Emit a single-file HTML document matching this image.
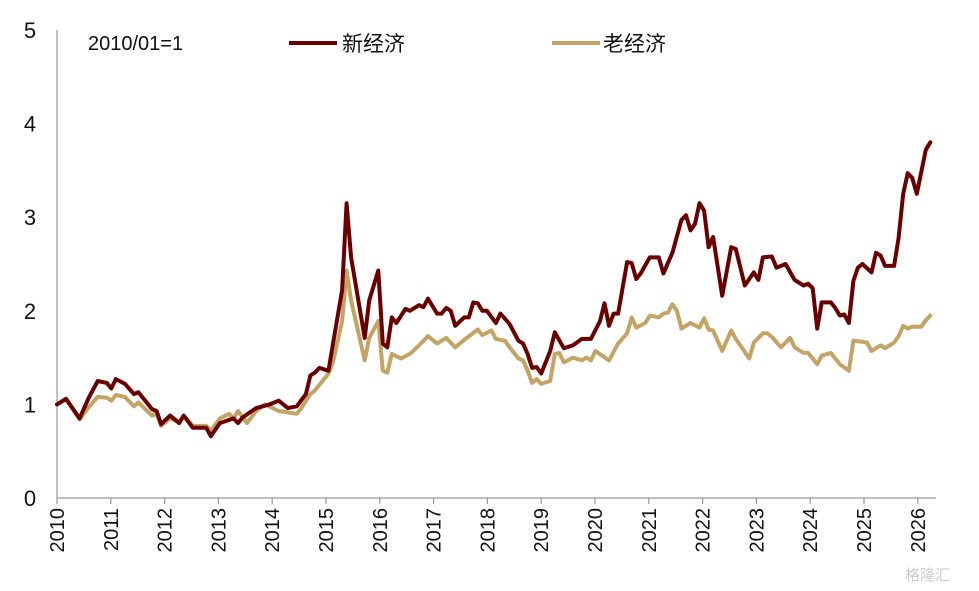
<!DOCTYPE html>
<html><head><meta charset="utf-8">
<style>
body{margin:0;background:#fff;}
svg{display:block;font-family:"Liberation Sans","Noto Sans CJK SC",sans-serif;}
</style></head>
<body>
<svg id="chart" width="979" height="591" viewBox="0 0 979 591" xmlns="http://www.w3.org/2000/svg">
  <g id="axes"></g>
  <g id="series"></g>
  <g>
    <text x="88" y="50" font-size="20" fill="#111">2010/01=1</text>
    <line x1="289" y1="43" x2="337" y2="43" stroke="#6b0000" stroke-width="4"/>
    <text x="342" y="51" font-size="21" fill="#111">新经济</text>
    <line x1="552" y1="43" x2="600" y2="43" stroke="#c4a464" stroke-width="4"/>
    <text x="603" y="51" font-size="21" fill="#111">老经济</text>
  </g>
  <text x="905" y="580" font-size="15" fill="#ccc">格隆汇</text>
</svg>
<script>
const yTicks = [0,1,2,3,4,5];
const xYears = [2010,2011,2012,2013,2014,2015,2016,2017,2018,2019,2020,2021,2022,2023,2024,2025,2026];
const newMonths = [0,2,5,7,9,11,12,13,15,17,18,21,22,23,25,27,28,30,33,34,36,39,40,41,44,47,49,51,53,55,56,57,58,60,61,63,64,65,68,69,71,72,73,74,75,77,78,80,81,82,84,85,86,87,88,90,91,92,93,94,95,97,98,100,102,103,104,105,106,107,109,110,112,114,116,118,120,121,122,123,124,126,127,128,129,131,133,134,136,138,139,140,141,142,143,144,145,147,149,150,152,154,155,156,158,159,161,163,165,166,167,168,169,171,172,173,174,175,176,177,178,180,181,182,183,185,186,187,188,189,190,192,193];
const newValues = [1.0,1.06,0.85,1.07,1.25,1.23,1.17,1.27,1.22,1.11,1.13,0.95,0.93,0.79,0.88,0.80,0.88,0.75,0.75,0.66,0.80,0.85,0.80,0.86,0.96,1.0,1.04,0.96,0.98,1.11,1.31,1.34,1.39,1.36,1.65,2.22,3.15,2.57,1.71,2.11,2.43,1.65,1.61,1.93,1.87,2.02,2.0,2.06,2.04,2.13,1.97,1.97,2.03,2.0,1.84,1.93,1.93,2.09,2.08,2.0,2.0,1.87,1.97,1.86,1.68,1.65,1.54,1.39,1.40,1.33,1.57,1.77,1.6,1.63,1.70,1.70,1.89,2.08,1.84,1.97,1.97,2.52,2.51,2.34,2.40,2.57,2.57,2.4,2.62,2.97,3.02,2.86,2.93,3.15,3.07,2.68,2.79,2.16,2.68,2.66,2.27,2.41,2.33,2.57,2.58,2.46,2.5,2.33,2.27,2.29,2.24,1.81,2.09,2.09,2.03,1.95,1.96,1.87,2.32,2.46,2.5,2.41,2.62,2.59,2.48,2.48,2.78,3.25,3.47,3.42,3.25,3.72,3.8];
const oldMonths = [0,2,5,7,9,11,12,13,15,17,18,21,22,23,25,27,28,30,33,34,36,38,39,40,42,44,46,49,53,54,56,57,60,61,63,64,65,68,69,71,72,73,74,76,78,80,82,84,86,88,90,93,94,96,97,99,100,102,103,104,105,106,107,109,110,111,112,114,116,117,118,119,122,124,126,127,128,130,131,133,134,135,136,137,138,140,142,143,144,145,147,149,150,153,154,156,157,158,160,162,163,165,166,168,169,171,173,175,176,178,179,180,182,183,185,186,187,188,189,191,192,193];
const oldValues = [1.0,1.06,0.84,0.97,1.08,1.07,1.04,1.1,1.08,0.98,1.02,0.88,0.9,0.77,0.85,0.81,0.88,0.77,0.77,0.72,0.85,0.9,0.85,0.93,0.8,0.93,1.0,0.93,0.9,0.96,1.11,1.15,1.33,1.45,1.89,2.43,2.11,1.47,1.71,1.89,1.36,1.34,1.54,1.49,1.54,1.63,1.73,1.65,1.71,1.61,1.69,1.80,1.74,1.79,1.70,1.68,1.61,1.49,1.47,1.36,1.23,1.27,1.22,1.25,1.54,1.55,1.45,1.5,1.47,1.50,1.47,1.57,1.47,1.65,1.76,1.93,1.82,1.87,1.95,1.93,1.97,1.98,2.07,2.0,1.81,1.87,1.82,1.92,1.80,1.79,1.57,1.79,1.70,1.49,1.66,1.76,1.76,1.72,1.61,1.71,1.61,1.55,1.55,1.43,1.52,1.55,1.43,1.36,1.68,1.67,1.66,1.57,1.63,1.6,1.66,1.73,1.84,1.81,1.83,1.83,1.9,1.95];

const NS='http://www.w3.org/2000/svg';
const X0=57, PX_PER_YEAR=54.3, Y0=498, PX_PER_UNIT=93.6;
function xMonth(m){return X0 + m*PX_PER_YEAR/12;}
function xYear(y){return X0 + (y-2010)*53.8;}
function yVal(v){return Y0 - v*PX_PER_UNIT;}
function mk(tag,attrs,parent){const e=document.createElementNS(NS,tag);for(const k in attrs)e.setAttribute(k,attrs[k]);parent.appendChild(e);return e;}

const axes=document.getElementById('axes');
let yl=mk('line',{x1:X0,y1:yVal(5),x2:X0,y2:Y0,stroke:'#999','stroke-width':1.2},axes);


let xl=mk('line',{x1:X0,y1:Y0,x2:936,y2:Y0,stroke:'#999','stroke-width':1.2},axes);


yTicks.forEach(v=>{
  const t=mk('text',{x:30,y:yVal(v)+8,'font-size':22,'text-anchor':'middle',fill:'#111'},axes);
  t.textContent=v;
  
  
});
xYears.forEach(yr=>{
  const x=xYear(yr);
  const tk=mk('line',{x1:x,y1:Y0,x2:x,y2:Y0+6,stroke:'#999','stroke-width':1.2},axes);
  
  
  const t=mk('text',{x:0,y:0,'font-size':20,'text-anchor':'end',fill:'#111',transform:`translate(${x+7},${Y0+10}) rotate(-90)`},axes);
  t.textContent=yr;
  
  
});

const series=document.getElementById('series');
function line(months,vals,color,name){
  const d=months.map((m,i)=>(i?'L':'M')+xMonth(m).toFixed(1)+','+yVal(vals[i]).toFixed(1)).join(' ');
  const p=mk('path',{d:d,fill:'none',stroke:color,'stroke-width':4,'stroke-linejoin':'round','stroke-linecap':'round'},series);
  
  
}
line(oldMonths,oldValues,'#c4a464','old-economy-line');
line(newMonths,newValues,'#6b0000','new-economy-line');
</script>
</body></html>
